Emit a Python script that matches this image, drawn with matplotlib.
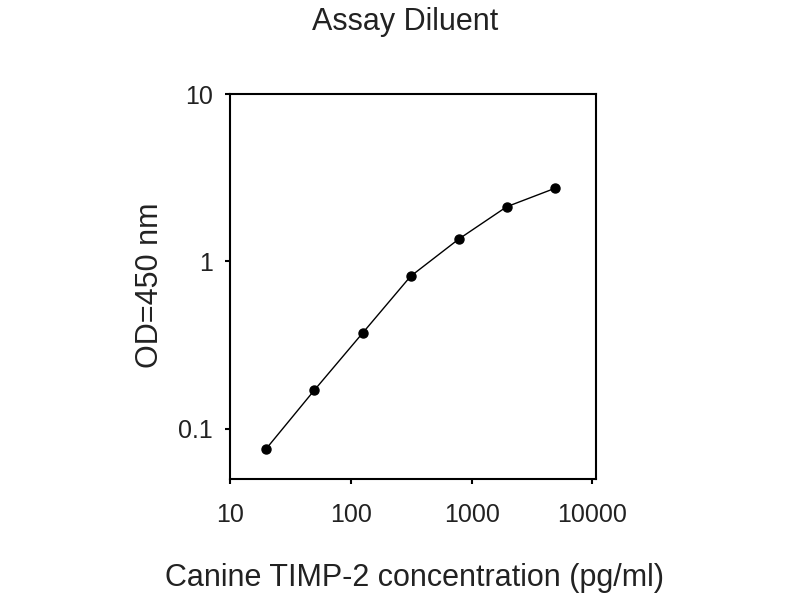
import matplotlib
matplotlib.use("Agg")
import matplotlib.pyplot as plt

# standard curve readings
conc = [20, 50, 125, 312.5, 781.25, 1953, 4883]
od = [0.076, 0.170, 0.372, 0.814, 1.357, 2.12, 2.73]

plt.rcParams['font.family'] = ['Liberation Sans', 'DejaVu Sans']

fig = plt.figure(figsize=(8, 6), dpi=100)
ax = fig.add_axes([0.2875, 0.2017, 0.4575, 0.6416])

ax.plot(conc, od, color='black', lw=1.0, marker='o', ms=6.5, mfc='black', mec='black')

ax.set_xscale('log')
ax.set_yscale('log')
ax.set_xlim(10, 10700)
ax.set_ylim(0.05, 10)

ax.set_xticks([10, 100, 1000, 10000])
ax.set_xticklabels(['10', '100', '1000', '10000'])
ax.set_yticks([0.1, 1, 10])
ax.set_yticklabels(['0.1', '1', '10'])
ax.minorticks_off()

for s in ax.spines.values():
    s.set_linewidth(1.5)
ax.tick_params(axis='x', direction='out', length=3.5, width=1.5, pad=14, labelsize=18,
               color='black', labelcolor='#222222')
ax.tick_params(axis='y', direction='out', length=3.5, width=1.5, pad=9, labelsize=18,
               color='black', labelcolor='#222222')

fig.text(0.506, 0.963, 'Assay Diluent', ha='center', va='center', fontsize=22, color='#222222')
fig.text(0.518, 0.037, 'Canine TIMP-2 concentration (pg/ml)', ha='center', va='center', fontsize=22, color='#222222')
fig.text(0.1875, 0.525, 'OD=450 nm', ha='center', va='center', rotation=90, fontsize=22, color='#222222')

fig.savefig('out.png', dpi=100)
